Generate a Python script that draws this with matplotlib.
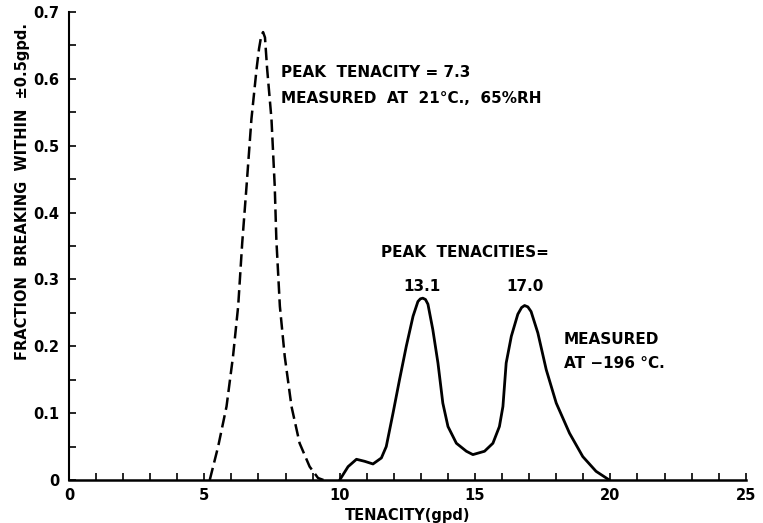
import numpy as np
import matplotlib
matplotlib.use("Agg")
import matplotlib.pyplot as plt
from matplotlib.ticker import MultipleLocator

# room temperature curve (dashed)
room_x = [5.20, 5.51, 5.82, 6.06, 6.25, 6.40, 6.56, 6.74, 6.93, 7.02, 7.10, 7.17,
          7.24, 7.32, 7.48, 7.60, 7.66, 7.79, 7.97, 8.22, 8.52, 8.89, 9.20, 9.40]
room_y = [0.0, 0.050, 0.110, 0.185, 0.260, 0.355, 0.440, 0.540, 0.615, 0.645, 0.664, 0.670,
          0.662, 0.615, 0.540, 0.440, 0.360, 0.260, 0.185, 0.110, 0.055, 0.020, 0.003, 0.0]

# -196 C curve (solid)
cold_x = [10.0, 10.31, 10.62, 10.92, 11.23, 11.54, 11.72, 11.97, 12.21, 12.46, 12.71,
          12.89, 12.98, 13.07, 13.17, 13.26, 13.44, 13.63, 13.81, 14.0, 14.31, 14.68, 14.92,
          15.35, 15.66, 15.90, 16.03, 16.15, 16.34, 16.58, 16.72, 16.83, 16.95, 17.07,
          17.32, 17.63, 18.0, 18.49, 18.98, 19.47, 19.96]
cold_y = [0.0, 0.020, 0.031, 0.028, 0.024, 0.033, 0.050, 0.100, 0.150, 0.200, 0.245,
          0.267, 0.271, 0.272, 0.270, 0.263, 0.225, 0.175, 0.115, 0.080, 0.055, 0.043, 0.038,
          0.043, 0.055, 0.080, 0.110, 0.175, 0.215, 0.248, 0.258, 0.261, 0.259, 0.252,
          0.220, 0.165, 0.115, 0.070, 0.035, 0.013, 0.0]

xticks = [0, 5, 10, 15, 20, 25]
yticks = [0, 0.1, 0.2, 0.3, 0.4, 0.5, 0.6, 0.7]
ytick_labels = ["0", "0.1", "0.2", "0.3", "0.4", "0.5", "0.6", "0.7"]

plt.rcParams['font.family'] = ['DejaVu Sans']
plt.rcParams['font.weight'] = 'bold'

fig = plt.figure(figsize=(7.63, 5.23), dpi=100)
ax = fig.add_axes([0.0904, 0.0822, 0.887, 0.8948])

ax.plot(room_x, room_y, color='black', lw=1.8, ls=(0, (5, 2.2)))
ax.plot(cold_x, cold_y, color='black', lw=2.0, solid_capstyle='round', solid_joinstyle='round')

ax.set_xlim(0, 25)
ax.set_ylim(0, 0.7)
ax.spines['top'].set_visible(False)
ax.spines['right'].set_visible(False)
ax.spines['left'].set_linewidth(1.5)
ax.spines['bottom'].set_linewidth(1.8)

ax.set_xticks(xticks)
ax.set_xticklabels([str(t) for t in xticks])
ax.xaxis.set_minor_locator(MultipleLocator(1))
ax.set_yticks(yticks)
ax.set_yticklabels(ytick_labels)
ax.yaxis.set_minor_locator(MultipleLocator(0.05))
ax.tick_params(which='both', direction='in', length=5, width=1.2, labelsize=10.5)
ax.tick_params(axis='x', pad=6)
ax.tick_params(axis='y', pad=7)

ax.set_xlabel("TENACITY(gpd)", fontsize=10.5, fontweight='bold', labelpad=3)
ax.text(-0.068, 0.616, "FRACTION  BREAKING  WITHIN  \u00b10.5gpd.", transform=ax.transAxes,
        rotation=90, ha='center', va='center', fontsize=10.5, fontweight='bold')

ax.text(7.82, 0.609, "PEAK  TENACITY = 7.3", fontsize=11, va='center', ha='left')
ax.text(7.82, 0.570, "MEASURED  AT  21\u00b0C.,  65%RH", fontsize=11, va='center', ha='left')
ax.text(11.51, 0.340, "PEAK  TENACITIES=", fontsize=11, va='center', ha='left')
ax.text(13.05, 0.289, "13.1", fontsize=11, va='center', ha='center')
ax.text(16.83, 0.289, "17.0", fontsize=11, va='center', ha='center')
ax.text(18.27, 0.210, "MEASURED", fontsize=11, va='center', ha='left')
ax.text(18.27, 0.174, "AT \u2212196 \u00b0C.", fontsize=11, va='center', ha='left')

fig.savefig("out.png", dpi=100)
